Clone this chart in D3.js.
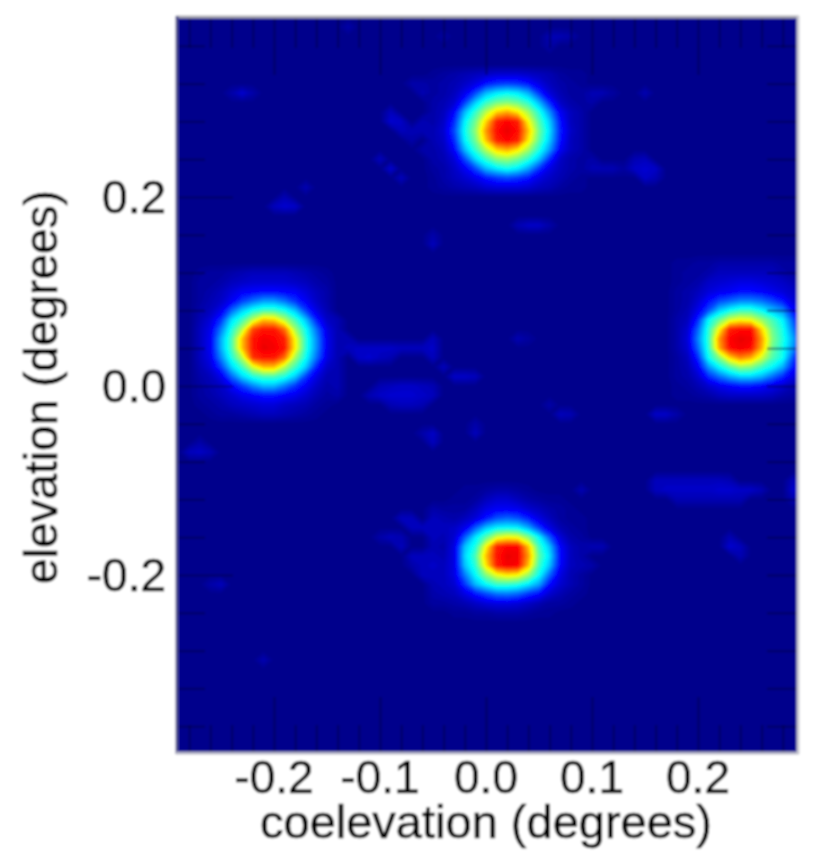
<!DOCTYPE html>
<html>
<head>
<meta charset="utf-8">
<script src="https://cdn.jsdelivr.net/npm/d3@7"></script>
<style>
  html, body { margin: 0; padding: 0; background: #fff; }
  svg { display: block; }
  text { font-family: "Liberation Sans", Arial, sans-serif; fill: #000; stroke: #000; stroke-width: 0.6; }
</style>
</head>
<body>
<div id="chart"></div>
<script>
// values are jet colour levels 0-100 at 0.01 degree steps
var topCoel = [-0.05,-0.04,-0.03,-0.02,-0.01,0,0.01,0.02,0.03,0.04,0.05,0.06,0.07,0.08,0.09];
var topElev = [0.33,0.32,0.31,0.30,0.29,0.28,0.27,0.26,0.25,0.24,0.23,0.22,0.21];
var topPeak = [
  [1,2,3,4,5,6,7,7,7,6,5,4,2,1,1],
  [2,3,4,6,9,14,17,18,17,14,9,5,3,2,1],
  [2,3,5,10,19,30,35,37,35,29,17,8,4,2,2],
  [3,4,7,18,32,42,48,50,47,41,30,16,6,3,2],
  [3,5,12,30,42,55,66,70,64,53,40,26,11,5,3],
  [3,6,16,36,48,66,84,87,84,62,45,32,14,5,3],
  [4,7,19,38,51,72,86,89,86,68,48,34,15,6,3],
  [4,6,16,36,48,68,84,87,84,64,46,32,14,5,3],
  [3,5,12,30,42,55,66,70,64,53,40,27,11,5,3],
  [3,4,8,19,33,42,50,52,48,41,31,16,6,3,2],
  [2,3,6,11,19,30,35,38,35,28,17,9,5,3,2],
  [1,3,5,7,10,14,17,19,17,14,9,6,4,2,1],
  [1,2,3,4,5,7,8,8,8,7,5,4,2,1,1]
];

var leftCoel = [-0.27,-0.26,-0.25,-0.24,-0.23,-0.22,-0.21,-0.20,-0.19,-0.18,-0.17,-0.16,-0.15];
var leftElev = [0.12,0.11,0.10,0.09,0.08,0.07,0.06,0.05,0.04,0.03,0.02,0.01,0,-0.01,-0.02,-0.03];
var leftPeak = [
  [1,2,2,3,4,5,5,5,5,4,3,2,1],
  [2,2,3,5,6,7,7,7,7,6,5,3,2],
  [2,3,5,8,11,12,13,13,12,11,8,5,3],
  [2,4,6,11,18,23,27,27,23,17,11,6,3],
  [3,5,10,22,32,39,43,43,39,31,18,9,4],
  [4,8,17,34,43,56,68,66,55,43,31,15,6],
  [5,10,24,40,55,80,85,85,76,53,38,23,9],
  [5,11,29,44,68,85,88,87,84,62,41,26,10],
  [5,11,29,44,68,85,89,88,85,63,41,26,10],
  [5,10,25,40,55,82,85,85,76,53,38,23,9],
  [4,8,18,33,43,58,68,68,55,43,32,15,6],
  [3,5,10,22,33,40,44,44,40,32,18,9,4],
  [2,4,6,12,18,25,30,30,24,17,11,6,3],
  [2,3,5,7,10,12,14,14,12,10,7,4,2],
  [1,2,3,5,6,7,8,8,6,5,4,2,1],
  [0,1,2,2,3,4,5,5,4,3,2,1,0]
];

var rightCoel = [0.18,0.19,0.20,0.21,0.22,0.23,0.24,0.25,0.26,0.27,0.28,0.29,0.30];
var rightElev = [0.13,0.12,0.11,0.10,0.09,0.08,0.07,0.06,0.05,0.04,0.03,0.02,0.01,0,-0.01];
var rightPeak = [
  [1,1,2,2,3,3,3,3,3,3,2,2,1],
  [1,2,2,3,5,5,5,5,5,5,3,2,2],
  [1,2,3,6,7,8,9,9,8,7,6,4,2],
  [2,3,5,8,10,11,13,13,12,10,8,6,3],
  [2,3,7,13,19,22,25,25,23,19,14,8,4],
  [2,4,10,20,32,38,42,42,37,31,26,13,6],
  [3,5,16,37,47,58,62,60,52,44,36,20,8],
  [3,7,22,41,62,84,86,86,66,48,39,24,9],
  [3,8,25,42,72,87,89,88,72,50,40,28,11],
  [3,7,22,41,70,86,88,86,70,48,39,26,11],
  [2,5,16,38,50,66,74,70,58,45,38,19,8],
  [2,4,11,27,37,45,52,50,43,37,29,14,6],
  [2,3,7,16,23,29,33,33,30,23,16,9,4],
  [1,2,4,7,10,12,14,14,12,10,7,4,3],
  [1,1,2,3,5,6,6,6,6,5,3,2,1]
];

var bottomCoel = [-0.05,-0.04,-0.03,-0.02,-0.01,0,0.01,0.02,0.03,0.04,0.05,0.06,0.07,0.08,0.09];
var bottomElev = [-0.11,-0.12,-0.13,-0.14,-0.15,-0.16,-0.17,-0.18,-0.19,-0.20,-0.21,-0.22,-0.23,-0.24];
var bottomPeak = [
  [0,0,0,1,1,2,3,3,2,1,0,0,0,0,0],
  [0,0,1,1,2,5,7,7,5,3,2,1,1,0,0],
  [3,2,2,2,5,9,11,11,10,7,5,3,2,1,0],
  [5,4,3,5,8,14,20,22,20,15,9,5,2,1,1],
  [5,5,6,10,21,31,36,37,36,29,18,9,4,2,1],
  [5,4,7,21,35,46,58,62,60,50,37,21,8,3,2],
  [4,3,9,31,40,62,84,87,87,68,43,31,12,5,3],
  [5,4,9,33,44,68,85,89,88,72,46,34,13,5,3],
  [6,5,9,31,41,64,84,88,87,68,43,31,12,5,2],
  [5,5,9,24,37,50,60,64,62,52,38,22,9,4,2],
  [4,5,7,17,30,37,42,42,40,35,28,13,7,4,2],
  [3,4,5,9,14,19,23,24,22,17,13,7,4,2,1],
  [2,2,3,4,6,8,9,9,8,6,4,2,2,1,0],
  [0,0,1,1,2,2,3,3,3,2,1,1,0,0,0]
];

// faint patches outside the four sources: [coelevation, elevation, level]
var faintSpots = [
  [-0.23,0.31,7],[-0.24,0.31,3],[-0.22,0.31,3],
  [-0.09,0.29,5],[-0.09,0.28,7],[-0.08,0.28,6],[-0.08,0.27,5],[-0.07,0.27,4],[-0.06,0.28,4],[-0.06,0.27,4],
  [-0.09,0.23,7],[-0.10,0.24,5],[-0.08,0.22,5],
  [-0.20,0.19,5],[-0.19,0.19,7],[-0.18,0.19,6],[-0.19,0.20,4],[-0.17,0.21,4],
  [-0.05,0.15,5],[-0.05,0.16,3],[0.03,0.17,4],[0.04,0.17,6],[0.05,0.17,6],[0.06,0.17,3],
  [0.14,0.23,6],[0.15,0.23,7],[0.16,0.23,6],[0.15,0.22,6],[0.15,0.24,5],[0.14,0.24,4],[0.16,0.22,4],
  [0.15,0.31,4],[0.10,0.31,4],[0.11,0.31,4],[0.12,0.31,2],[0.10,0.30,3],
  [0.10,0.24,3],[0.10,0.23,4],[0.11,0.23,4],[0.12,0.23,4],[0.13,0.23,2],
  [-0.06,0.31,4],[-0.06,0.32,3],[-0.07,0.32,3],[-0.06,0.25,3],[-0.07,0.26,3],
  [-0.13,0.05,4],[-0.13,0.04,5],[-0.12,0.04,6],[-0.12,0.03,6],[-0.11,0.03,7],[-0.11,0.04,6],[-0.10,0.04,6],[-0.10,0.03,5],
  [-0.09,0.04,6],[-0.08,0.04,5],[-0.07,0.04,5],[-0.06,0.04,5],[-0.09,0.03,4],[-0.05,0.05,5],[-0.05,0.04,6],[-0.05,0.03,5],
  [-0.04,0.02,5],[-0.03,0.01,6],[-0.02,0.01,6],[-0.01,0.01,5],
  [-0.14,0.07,4],[-0.14,0.06,4],[-0.14,0.05,4],[-0.14,0.04,4],[-0.14,0.03,4],[-0.14,0.02,4],[-0.14,0.01,4],[-0.14,0,4],[-0.14,-0.01,3],
  [-0.10,0,4],[-0.09,0,5],[-0.08,0,6],[-0.07,0,6],[-0.06,0,5],[-0.05,0,4],
  [-0.11,-0.01,4],[-0.10,-0.01,6],[-0.09,-0.01,7],[-0.08,-0.01,7],[-0.07,-0.01,7],[-0.06,-0.01,6],[-0.05,-0.01,5],
  [-0.09,-0.02,4],[-0.08,-0.02,5],[-0.07,-0.02,5],[-0.06,-0.02,4],
  [-0.05,-0.05,6],[-0.05,-0.06,5],[-0.06,-0.05,3],[-0.01,-0.05,5],[-0.01,-0.04,3],[0.03,0.05,4],[0.04,0.05,2],
  [0.07,-0.03,5],[0.08,-0.03,4],[0.06,-0.02,3],[0.16,-0.03,6],[0.17,-0.03,6],[0.18,-0.03,3],
  [0.16,-0.10,5],[0.16,-0.11,5],[0.17,-0.11,6],[0.18,-0.11,6],[0.19,-0.11,6],[0.20,-0.11,6],[0.21,-0.11,6],
  [0.22,-0.11,7],[0.23,-0.11,7],[0.24,-0.11,6],[0.25,-0.11,6],[0.26,-0.11,4],
  [0.17,-0.10,5],[0.18,-0.10,5],[0.19,-0.10,5],[0.20,-0.10,5],[0.21,-0.10,5],[0.22,-0.10,5],[0.23,-0.10,4],
  [0.18,-0.12,4],[0.19,-0.12,4],[0.20,-0.12,4],[0.21,-0.12,4],[0.22,-0.12,4],[0.23,-0.12,4],[0.24,-0.12,4],
  [0.29,-0.11,7],[0.29,-0.10,5],[0.29,-0.12,4],[0.23,-0.17,7],[0.23,-0.16,4],[0.24,-0.17,5],[0.24,-0.18,4],[0.09,-0.11,4],
  [-0.27,-0.07,6],[-0.28,-0.07,5],[-0.26,-0.07,4],[-0.27,-0.06,3],[-0.25,-0.21,5],[-0.26,-0.21,3],[-0.21,-0.29,4],
  [-0.09,-0.16,5],[-0.10,-0.16,3],[-0.08,-0.17,5],[-0.08,-0.16,4],[-0.08,-0.14,5],[-0.07,-0.14,5],[-0.07,-0.15,5],[-0.06,-0.15,5],
  [-0.07,-0.18,5],[-0.06,-0.19,5],[-0.06,-0.20,5],[-0.06,-0.18,5],[-0.07,-0.19,3],[0.10,-0.17,4],[0.11,-0.17,4],[0.10,-0.19,3],[0.09,-0.19,4],
  [0.06,0.36,3],[0.07,0.37,4],[0.06,0.37,4],[0.08,0.37,3],[-0.13,0.38,3],[-0.04,0.37,2]
];

var coelMajor = [-0.2,-0.1,0,0.1,0.2];
var coelMinor = [-0.28,-0.26,-0.24,-0.22,-0.18,-0.16,-0.14,-0.12,-0.08,-0.06,-0.04,-0.02,0.02,0.04,0.06,0.08,0.12,0.14,0.16,0.18,0.22,0.24,0.26,0.28];
var elevMajor = [-0.2,0,0.2];
var elevMinor = [-0.36,-0.32,-0.28,-0.24,-0.16,-0.12,-0.08,-0.04,0.04,0.08,0.12,0.16,0.24,0.28,0.32,0.36];
var coelLabel = "coelevation (degrees)";
var elevLabel = "elevation (degrees)";

var jetStops = [0,12,37,62,87,100];
var jetColors = ["#00008c","#0000ff","#00ffff","#ffff00","#ff0000","#800000"];

var width = 830;
var height = 857;
var left = 178, right = 797, plotTop = 18, plotBottom = 752;

var x = d3.scaleLinear().domain([-0.2, 0.2]).range([274, 698]);
var y = d3.scaleLinear().domain([-0.2, 0.2]).range([575, 197]);
var color = d3.scaleLinear().domain(jetStops).range(jetColors);

// grid covering the whole frame, 0.01 degree per cell
var nx = 61, ny = 79;
var grid = new Array(nx * ny).fill(0);

function setCell(coel, elev, level) {
  var i = Math.round((coel + 0.30) * 100);
  var j = Math.round((0.39 - elev) * 100);
  if (i >= 0 && i < nx && j >= 0 && j < ny) {
    grid[j * nx + i] = Math.max(grid[j * nx + i], level);
  }
}

function addPatch(coels, elevs, rows) {
  rows.forEach(function (row, j) {
    row.forEach(function (level, i) {
      setCell(coels[i], elevs[j], level);
    });
  });
}

addPatch(topCoel, topElev, topPeak);
addPatch(leftCoel, leftElev, leftPeak);
addPatch(rightCoel, rightElev, rightPeak);
addPatch(bottomCoel, bottomElev, bottomPeak);
faintSpots.forEach(function (d) { setCell(d[0], d[1], d[2]); });

var svg = d3.select("#chart").append("svg")
  .attr("width", width)
  .attr("height", height);

var defs = svg.append("defs");
defs.append("clipPath").attr("id", "frame").append("rect")
  .attr("x", left).attr("y", plotTop)
  .attr("width", right - left).attr("height", plotBottom - plotTop);
defs.append("filter").attr("id", "soft")
  .attr("x", 0).attr("y", 0).attr("width", 1).attr("height", 1)
  .append("feGaussianBlur").attr("stdDeviation", 0.9);

var page = svg.append("g").attr("filter", "url(#soft)");
page.append("rect").attr("width", width).attr("height", height).attr("fill", "#fff");

var plot = page.append("g").attr("clip-path", "url(#frame)");
plot.append("rect")
  .attr("x", left).attr("y", plotTop)
  .attr("width", right - left).attr("height", plotBottom - plotTop)
  .attr("fill", color(0));

// filled contours take the grid to the image, thin steps keep the jet ramp smooth
var thresholds = d3.range(0.5, 92, 1);
var contours = d3.contours().size([nx, ny]).thresholds(thresholds)(grid);
var toPlot = d3.geoTransform({
  point: function (gx, gy) {
    this.stream.point(x(-0.30 + (gx - 0.5) * 0.01), y(0.39 - (gy - 0.5) * 0.01));
  }
});
var path = d3.geoPath(toPlot);

plot.selectAll("path.level")
  .data(contours)
  .enter().append("path")
  .attr("class", "level")
  .attr("d", path)
  .attr("fill", function (d) { return color(d.value + 0.5); });

// ticks point inwards on all four sides
function tickGroup(axis, tx, ty) {
  var g = plot.append("g")
    .attr("transform", "translate(" + tx + "," + ty + ")")
    .call(axis);
  g.select(".domain").remove();
  g.selectAll("text").remove();
  g.selectAll("line")
    .attr("stroke", "#000040")
    .attr("stroke-opacity", 0.45)
    .attr("stroke-width", 2.2);
}

tickGroup(d3.axisBottom(x).tickValues(coelMinor).tickSize(-27), 0, plotBottom);
tickGroup(d3.axisBottom(x).tickValues(coelMajor).tickSize(-55), 0, plotBottom);
tickGroup(d3.axisTop(x).tickValues(coelMinor).tickSize(-30), 0, plotTop);
tickGroup(d3.axisTop(x).tickValues(coelMajor).tickSize(-57), 0, plotTop);
tickGroup(d3.axisLeft(y).tickValues(elevMinor).tickSize(-27), left, 0);
tickGroup(d3.axisLeft(y).tickValues(elevMajor).tickSize(-55), left, 0);
tickGroup(d3.axisRight(y).tickValues(elevMinor).tickSize(-30), right, 0);
tickGroup(d3.axisRight(y).tickValues(elevMajor).tickSize(-30), right, 0);

// frame: each side has its own grey in the picture
page.append("line").attr("x1", left - 2).attr("x2", right + 2).attr("y1", plotTop - 1).attr("y2", plotTop - 1)
  .attr("stroke", "#a8a8b0").attr("stroke-width", 3);
page.append("line").attr("x1", left - 1).attr("x2", left - 1).attr("y1", plotTop - 2).attr("y2", plotBottom + 2)
  .attr("stroke", "#50508c").attr("stroke-width", 3);
page.append("line").attr("x1", left - 2).attr("x2", right + 2).attr("y1", plotBottom + 1).attr("y2", plotBottom + 1)
  .attr("stroke", "#b4b4c4").attr("stroke-width", 3);
page.append("line").attr("x1", right + 1).attr("x2", right + 1).attr("y1", plotTop - 2).attr("y2", plotBottom + 2)
  .attr("stroke", "#c8c8d0").attr("stroke-width", 3);

var fontSize = 46;

page.selectAll("text.coel")
  .data(coelMajor)
  .enter().append("text")
  .attr("class", "coel")
  .attr("x", function (d) { return x(d); })
  .attr("y", 793)
  .attr("text-anchor", "middle")
  .attr("font-size", fontSize)
  .text(function (d) { return d.toFixed(1); });

page.selectAll("text.elev")
  .data(elevMajor)
  .enter().append("text")
  .attr("class", "elev")
  .attr("x", 166)
  .attr("y", function (d) { return y(d) + 16; })
  .attr("text-anchor", "end")
  .attr("font-size", fontSize)
  .text(function (d) { return d.toFixed(1); });

page.append("text")
  .attr("x", 486)
  .attr("y", 838)
  .attr("text-anchor", "middle")
  .attr("font-size", 47)
  .text(coelLabel);

page.append("text")
  .attr("transform", "translate(57,387) rotate(-90)")
  .attr("text-anchor", "middle")
  .attr("font-size", fontSize)
  .text(elevLabel);
</script>
</body>
</html>
